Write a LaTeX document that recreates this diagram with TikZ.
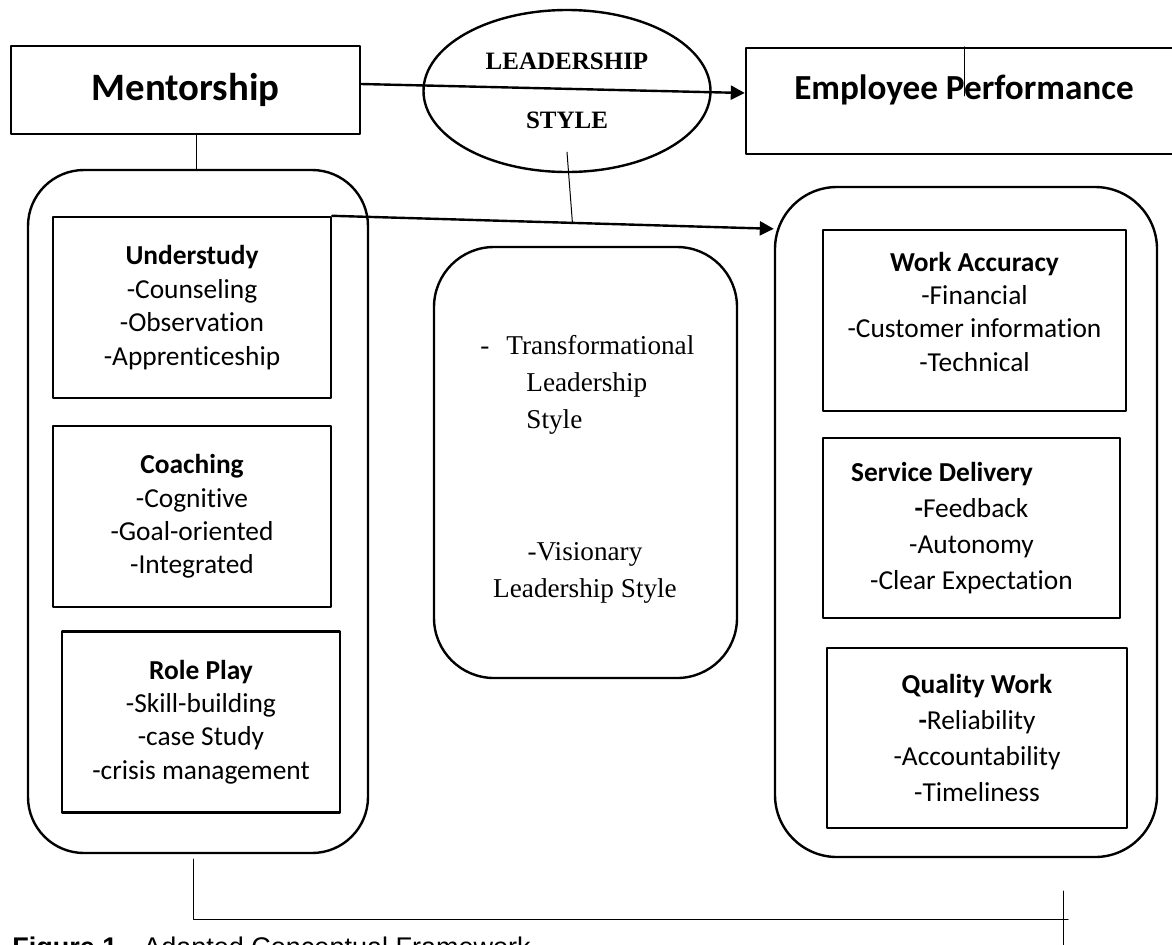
\documentclass[tikz,border=0pt]{standalone}
\usepackage{fontspec}
\usetikzlibrary{calc,shapes.geometric,arrows.meta}
\newfontfamily\boxfont[Ligatures=NoCommon]{Carlito}
\newfontfamily\romfont{Liberation Serif}
\newfontfamily\capfont{Liberation Sans}
\def\bw{139pt}
\def\bh{90.5pt}
\def\rr{28pt}

\tikzset{
	box/.style={draw, line width=1.2pt, minimum width=\bw, minimum height=\bh, inner sep=0pt,
		align=center, font=\boxfont\fontsize{13.7}{16.7}\selectfont},
	wide/.style={font=\boxfont\fontsize{13.7}{18}\selectfont},
	panel/.style={draw, line width=1.2pt, rounded corners=\rr, inner sep=0pt},
	head/.style={font=\boxfont\bfseries\fontsize{17.6}{22}\selectfont},
	link/.style={line width=0.5pt},
	arr/.style={line width=1.2pt, -{Triangle[length=7pt,width=7pt]}},
}

\begin{document}
\begin{tikzpicture}[x=0.5pt, y=-0.5pt, line cap=round, line join=round]
		\useasboundingbox (0,0) rectangle (1172,944);
		\clip (0,0) rectangle (1172,944);
		
		% Top row
		\node[box, head, font=\boxfont\bfseries\fontsize{19.4}{22}\selectfont, minimum width=174.5pt, minimum height=44pt] (ment) at (185.5,90) {Mentorship};
		\node[draw, ellipse, line width=1.2pt, minimum width=143.5pt, minimum height=81pt, inner sep=0pt,
			align=center, font=\romfont\bfseries\fontsize{12.5}{29.5}\selectfont] (lead) at (567,91) {LEADERSHIP\\STYLE};
		\node[box, minimum width=218pt, minimum height=53pt] (perf) at (964,101) {};
		\node[head, inner sep=0pt] (perftxt) at (964,90) {Employee Performance};
		
		% Mentorship
		\node[panel, minimum width=170pt, minimum height=341.5pt] (lcont) at (198,511.5) {};
		\node[box] (ustudy) at (192,307.5) {\textbf{Understudy}\\-Counseling\\-Observation\\-Apprenticeship};
		\node[box] (coach) at (192,516.5) {\textbf{Coaching}\\-Cognitive\\-Goal-oriented\\-Integrated};
		\node[box] (rplay) at (201,722) {\textbf{Role Play}\\-Skill-building\\-case Study\\-crisis management};
		
		% Leadership style
		\node[panel, rounded corners=30pt, minimum width=151.5pt, minimum height=215.5pt] (mcont) at (585.5,462.5) {};
		\node[anchor=north west, align=left, inner sep=0pt, font=\romfont\fontsize{13.6}{18.5}\selectfont] (trans) at (480,335)
			{-\hspace*{8.5pt}Transformational\\\hspace*{23pt}Leadership\\\hspace*{23pt}Style};
		\node[align=center, inner sep=0pt, font=\romfont\fontsize{13.6}{18.5}\selectfont] (vis) at (585,573)
			{-Visionary\\Leadership Style};
		
		% Employee performance
		\node[panel, rounded corners=31pt, minimum width=191pt, minimum height=335pt] (rcont) at (966,522) {};
		\node[box, minimum width=151.5pt] (wacc) at (974.5,320.5)
			{\textbf{Work Accuracy}\\-Financial\\-Customer information\\-Technical\\[-7.7pt]\mbox{}};
		\node[box, wide, minimum width=148.5pt, minimum height=90pt] (sdel) at (971.5,528)
			{\textbf{Service Delivery}\hspace*{29.5pt}\\\textbf{-}Feedback\\-Autonomy\\-Clear Expectation};
		\node[box, wide, minimum width=150pt, minimum height=90pt] (qwork) at (977,738)
			{\textbf{Quality Work}\\\textbf{-}Reliability\\-Accountability\\-Timeliness};
		
		% Links
		\draw[arr] ($(ment.east)+(0,-6)$) -- ($(perf.west)+(0,-8)$);
		\draw[arr] (ustudy.north east) -- coordinate[pos=0.544] (ulink) ($(rcont.north west)+(0,43)$);
		\draw[link] ($(lead.south)+(0,-21)$) -- (ulink);
		\draw[link] (ment.south) ++(10.5,0) coordinate (m1) -- (m1 |- lcont.north);
		\draw[link] (perf.north) -- ++(0,49);
		
		% Bottom line
		\draw[link] (lcont.south) ++(-5,5) coordinate (b1) -- ++(0,60) coordinate (b2)
			-- ($(b2 -| rcont.south)+(102,0)$);
		\draw[link] ($(rcont.south)+(97,33)$) -- ++(0,60);
		
		% Caption
		\node[anchor=base west, inner sep=0pt, font=\capfont\fontsize{13.5}{16}\selectfont] (cap) at (12,956)
			{\textbf{Figure 1.}\hspace{9.25pt}Adapted Conceptual Framework};
\end{tikzpicture}
\end{document}
